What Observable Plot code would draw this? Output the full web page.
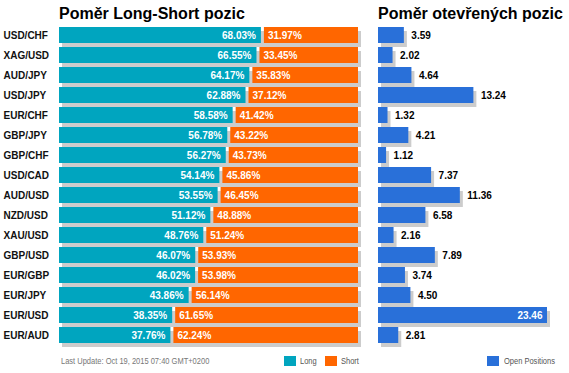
<!DOCTYPE html>
<html>
<head>
<meta charset="utf-8">
<script src="https://cdn.jsdelivr.net/npm/d3@7"></script>
<script src="https://cdn.jsdelivr.net/npm/@observablehq/plot@0.6"></script>
<style>
  html, body { margin: 0; padding: 0; background: #fff; }
  #wrap { position: relative; width: 569px; height: 373px; overflow: hidden; font-family: "Liberation Sans", Arial, sans-serif; }
  #wrap svg { position: absolute; left: 0; top: 0; background: transparent; }
  .title { position: absolute; top: 6px; font-size: 16px; font-weight: bold; line-height: 16px; color: #000; white-space: nowrap; }
  .leg { position: absolute; top: 356px; font-family: "Liberation Sans", Arial, sans-serif; font-size: 9.5px; line-height: 10px; color: #555; white-space: nowrap; transform: scaleX(0.79); transform-origin: 0 50%; }
  .sw { position: absolute; top: 356px; width: 12px; height: 10px; }
</style>
</head>
<body>
<div id="wrap"></div>
<script>
const pairs = ["USD/CHF","XAG/USD","AUD/JPY","USD/JPY","EUR/CHF","GBP/JPY","GBP/CHF","USD/CAD","AUD/USD","NZD/USD","XAU/USD","GBP/USD","EUR/GBP","EUR/JPY","EUR/USD","EUR/AUD"];
const longPct = [68.03,66.55,64.17,62.88,58.58,56.78,56.27,54.14,53.55,51.12,48.76,46.07,46.02,43.86,38.35,37.76];
const shortPct = [31.97,33.45,35.83,37.12,41.42,43.22,43.73,45.86,46.45,48.88,51.24,53.93,53.98,56.14,61.65,62.24];
const openPos = [3.59,2.02,4.64,13.24,1.32,4.21,1.12,7.37,11.36,6.58,2.16,7.89,3.74,4.50,23.46,2.81];
const leftTitle = "Poměr Long-Short pozic";
const rightTitle = "Poměr otevřených pozic";
const updateText = "Last Update: Oct 19, 2015 07:40 GMT+0200";
const legendLabels = ["Long", "Short", "Open Positions"];

const colLong = "#00a5bf", colShort = "#ff6600", colOpen = "#2970d9", colShadow = "#cccccc";

const rows = pairs.map((p, i) => ({pair: p, long: longPct[i], short: shortPct[i], open: openPos[i]}));
const yScale = {domain: pairs, range: [25, 345], paddingInner: 0.2, paddingOuter: 0.1, round: false, axis: null};
const font = "'Liberation Sans', Arial, sans-serif";

const left = Plot.plot({
  width: 569, height: 373,
  marginLeft: 59, marginRight: 211, marginTop: 25, marginBottom: 28,
  style: {background: "transparent", fontFamily: font},
  x: {domain: [0, 100], range: [59, 358], axis: null},
  y: yScale,
  marks: [
    Plot.barX(rows, {x1: 0, x2: 100, y: "pair", fill: colShadow, dx: 3, dy: 4}),
    Plot.barX(rows, {x1: 0, x2: "long", y: "pair", fill: colLong, insetRight: 1.5}),
    Plot.barX(rows, {x1: "long", x2: d => d.long + d.short, y: "pair", fill: colShort, insetLeft: 1.5}),
    Plot.text(rows, {x: "long", y: "pair", text: d => d.long.toFixed(2) + "%", textAnchor: "end", dx: -7, fill: "#fff", fontWeight: "bold", fontSize: 10}),
    Plot.text(rows, {x: "long", y: "pair", text: d => d.short.toFixed(2) + "%", textAnchor: "start", dx: 5, fill: "#fff", fontWeight: "bold", fontSize: 10}),
    Plot.text(rows, {y: "pair", text: "pair", frameAnchor: "left", textAnchor: "start", dx: -56, fill: "#111", fontWeight: "bold", fontSize: 10})
  ]
});

const right = Plot.plot({
  width: 569, height: 373,
  marginLeft: 378, marginRight: 22, marginTop: 25, marginBottom: 28,
  style: {background: "transparent", fontFamily: font},
  x: {domain: [0, 23.46], range: [378, 547], axis: null},
  y: yScale,
  marks: [
    Plot.barX(rows, {x1: 0, x2: "open", y: "pair", fill: colShadow, dx: 3, dy: 4}),
    Plot.barX(rows, {x1: 0, x2: "open", y: "pair", fill: colOpen}),
    Plot.text(rows.filter(d => d.open < 20), {x: "open", y: "pair", text: d => d.open.toFixed(2), textAnchor: "start", dx: 7, fill: "#000", fontWeight: "bold", fontSize: 10}),
    Plot.text(rows.filter(d => d.open >= 20), {x: "open", y: "pair", text: d => d.open.toFixed(2), textAnchor: "end", dx: -5, fill: "#fff", fontWeight: "bold", fontSize: 10})
  ]
});

const wrap = document.getElementById("wrap");
wrap.appendChild(left);
wrap.appendChild(right);

function addDiv(cls, text, x, extra) {
  const d = document.createElement("div");
  d.className = cls;
  d.textContent = text;
  d.style.left = x + "px";
  if (extra) Object.assign(d.style, extra);
  wrap.appendChild(d);
  return d;
}
addDiv("title", leftTitle, 59);
addDiv("title", rightTitle, 378);
addDiv("leg", updateText, 61, {color: "#777"});
const sw = [[284, colLong, 300], [325, colShort, 341], [487, colOpen, 504]];
sw.forEach(([x, c, tx], i) => {
  addDiv("sw", "", x, {background: c});
  addDiv("leg", legendLabels[i], tx);
});
</script>
</body>
</html>
